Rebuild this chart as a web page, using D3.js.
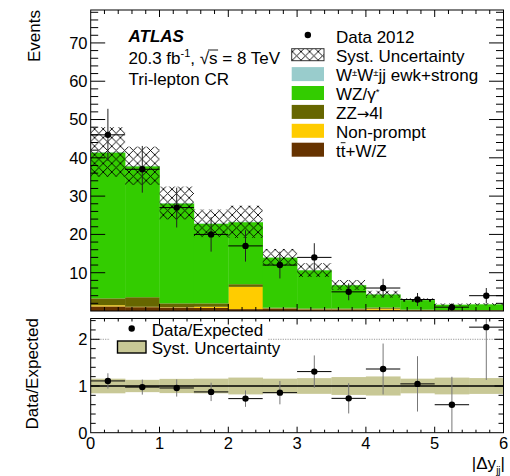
<!DOCTYPE html>
<html>
<head>
<meta charset="utf-8">
<script src="https://cdn.jsdelivr.net/npm/d3@7/dist/d3.min.js"></script>
<style>
  html, body { margin: 0; padding: 0; background: #fff; }
  svg { display: block; font-family: "Liberation Sans", Arial, Helvetica, sans-serif; }
</style>
</head>
<body>
<svg id="chart" width="510" height="476"></svg>
<script>
// |Δy_jj| bins (lower edges), width 0.5
const binEdges = [0, 0.5, 1, 1.5, 2, 2.5, 3, 3.5, 4, 4.5, 5, 5.5, 6];

// Stacked backgrounds, bottom to top
const ttWZ      = [1.2, 1.0, 0.9, 0.8, 0.5, 0.6, 0.4, 0.4, 0.3, 0.2, 0.15, 0.15];
const nonPrompt = [0.3, 0.1, 0.1, 0.3, 5.8, 0.05, 0.05, 0.05, 0.3, 0.05, 0.0, 0.0];
const zz        = [1.8, 2.5, 1.0, 0.9, 0.7, 0.2, 0.2, 0.2, 0.3, 0.1, 0.1, 0.1];
const wz        = [38.1, 34.2, 26.1, 20.8, 16.2, 13.1, 10.0, 6.1, 3.45, 2.5, 1.4, 1.5];
const wwjj      = [0.1, 0.1, 0.1, 0.1, 0.1, 0.05, 0.05, 0.05, 0.05, 0.02, 0.02, 0.02];

// Systematic uncertainty on the total expectation
const syst      = [6.5, 5.0, 4.3, 3.6, 4.2, 2.2, 1.8, 1.3, 0.9, 0.45, 0.3, 0.3];

// Data 2012 and its statistical error
const data      = [46, 37, 27, 20, 17, 12, 14, 5, 6, 3, 1, 4];
const dataErr   = [6.8, 6.1, 5.2, 4.5, 4.1, 3.5, 3.7, 2.2, 2.4, 1.7, 1.0, 2.0];

const mainTicks  = [10, 20, 30, 40, 50, 60, 70];
const ratioTicks = [0, 1, 2];
const xTicks     = [0, 1, 2, 3, 4, 5, 6];

const keys = ["ttWZ", "nonPrompt", "zz", "wz", "wwjj"];
const colors = {
  ttWZ: "#663300",
  nonPrompt: "#ffcc00",
  zz: "#666600",
  wz: "#33cc00",
  wwjj: "#99cccc"
};

const bins = binEdges.slice(0, -1).map((lo, i) => ({
  lo, hi: binEdges[i + 1],
  ttWZ: ttWZ[i], nonPrompt: nonPrompt[i], zz: zz[i], wz: wz[i], wwjj: wwjj[i],
  syst: syst[i], data: data[i], err: dataErr[i]
}));
bins.forEach(b => { b.total = keys.reduce((s, k) => s + b[k], 0); });

const svg = d3.select("#chart");

// Frames
const L = 90.7, R = 503.5;
const mainTop = 10, mainBot = 311;
const ratTop = 318.5, ratBot = 432.7;

const x = d3.scaleLinear().domain([0, 6]).range([L, R]);
const y = d3.scaleLinear().domain([0, 78.6]).range([mainBot, mainTop]);
const yr = d3.scaleLinear().domain([0, 2.445]).range([ratBot, ratTop]);

const defs = svg.append("defs");
const hp = defs.append("pattern").attr("id", "xhatch")
  .attr("patternUnits", "userSpaceOnUse").attr("width", 8.6).attr("height", 8.6);
hp.append("path").attr("d", "M0,0L8.6,8.6M8.6,0L0,8.6M-1,7.6L1,9.6M7.6,-1L9.6,1")
  .attr("stroke", "#000").attr("stroke-width", 0.9).attr("fill", "none");

defs.append("clipPath").attr("id", "clipMain").append("rect")
  .attr("x", L).attr("y", mainTop).attr("width", R - L).attr("height", mainBot - mainTop);
defs.append("clipPath").attr("id", "clipRat").append("rect")
  .attr("x", L).attr("y", ratTop).attr("width", R - L).attr("height", ratBot - ratTop);

// ---------- main panel ----------
const gMain = svg.append("g").attr("clip-path", "url(#clipMain)");
const stacked = d3.stack().keys(keys)(bins);
stacked.forEach(layer => {
  gMain.append("g").selectAll("rect").data(layer).join("rect")
    .attr("x", d => x(d.data.lo))
    .attr("width", d => x(d.data.hi) - x(d.data.lo) + 0.3)
    .attr("y", d => y(d[1]))
    .attr("height", d => Math.max(0, y(d[0]) - y(d[1])))
    .attr("fill", colors[layer.key]);
});

// systematic band
gMain.append("g").selectAll("rect").data(bins).join("rect")
  .attr("x", d => x(d.lo))
  .attr("width", d => x(d.hi) - x(d.lo))
  .attr("y", d => y(d.total + d.syst))
  .attr("height", d => y(d.total - d.syst) - y(d.total + d.syst))
  .attr("fill", "url(#xhatch)");

// data points
const gData = gMain.append("g");
gData.selectAll("line.h").data(bins).join("line").attr("class", "h")
  .attr("x1", d => x(d.lo)).attr("x2", d => x(d.hi))
  .attr("y1", d => y(d.data)).attr("y2", d => y(d.data))
  .attr("stroke", "#000").attr("stroke-width", 1);
gData.selectAll("line.v").data(bins).join("line").attr("class", "v")
  .attr("x1", d => x((d.lo + d.hi) / 2)).attr("x2", d => x((d.lo + d.hi) / 2))
  .attr("y1", d => y(d.data + d.err)).attr("y2", d => y(Math.max(0, d.data - d.err)))
  .attr("stroke", "#222").attr("stroke-width", 1);
gData.selectAll("circle").data(bins).join("circle")
  .attr("cx", d => x((d.lo + d.hi) / 2)).attr("cy", d => y(d.data))
  .attr("r", 3.2).attr("fill", "#000");

// ---------- ratio panel ----------
const gRat = svg.append("g").attr("clip-path", "url(#clipRat)");
gRat.append("line").attr("x1", L).attr("x2", R).attr("y1", yr(2)).attr("y2", yr(2))
  .attr("stroke", "#999").attr("stroke-width", 1).attr("stroke-dasharray", "1.2,1.2");
gRat.append("g").selectAll("rect").data(bins).join("rect")
  .attr("x", d => x(d.lo))
  .attr("width", d => x(d.hi) - x(d.lo) + 0.3)
  .attr("y", d => yr(1 + d.syst / d.total))
  .attr("height", d => yr(1 - d.syst / d.total) - yr(1 + d.syst / d.total))
  .attr("fill", "#c8c896");
gRat.append("line").attr("x1", L).attr("x2", R).attr("y1", yr(1)).attr("y2", yr(1))
  .attr("stroke", "#000").attr("stroke-width", 1.4);

const ratio = bins.map(d => ({ c: (d.lo + d.hi) / 2, lo: d.lo, hi: d.hi, r: d.data / d.total, e: d.err / d.total }));
gRat.append("g").selectAll("line").data(ratio).join("line")
  .attr("x1", d => x(d.c)).attr("x2", d => x(d.c))
  .attr("y1", d => yr(d.r + d.e)).attr("y2", d => yr(Math.max(0, d.r - d.e)))
  .attr("stroke", "#777").attr("stroke-width", 1);
gRat.append("g").selectAll("line").data(ratio).join("line")
  .attr("x1", d => x(d.lo)).attr("x2", d => x(d.hi))
  .attr("y1", d => yr(d.r)).attr("y2", d => yr(d.r))
  .attr("stroke", "#000").attr("stroke-width", 1);
gRat.append("g").selectAll("circle").data(ratio).join("circle")
  .attr("cx", d => x(d.c)).attr("cy", d => yr(d.r)).attr("r", 3.2).attr("fill", "#000");

// ratio legend (white box hides the dotted line behind it)
svg.append("rect").attr("x", 110).attr("y", 323).attr("width", 158).attr("height", 34).attr("fill", "#fff");
svg.append("circle").attr("cx", 131.7).attr("cy", 328.5).attr("r", 3.2).attr("fill", "#000");
svg.append("text").attr("x", 151.7).attr("y", 335.7).attr("font-size", 17).text("Data/Expected");
svg.append("rect").attr("x", 117.5).attr("y", 341).attr("width", 28.5).attr("height", 12)
  .attr("fill", "#c8c896").attr("stroke", "#000").attr("stroke-width", 1.4);
svg.append("text").attr("x", 151.7).attr("y", 353.5).attr("font-size", 17).text("Syst. Uncertainty");

// ---------- axes and frames ----------
const axisCol = "#000";
function frame(top, bot) {
  svg.append("rect").attr("x", L).attr("y", top).attr("width", R - L).attr("height", bot - top)
    .attr("fill", "none").attr("stroke", axisCol).attr("stroke-width", 1);
}
frame(mainTop, mainBot);
frame(ratTop, ratBot);

const tickG = svg.append("g").attr("stroke", axisCol).attr("stroke-width", 1);
// main y ticks (left and right)
d3.range(2, 79, 2).forEach(v => {
  const len = v % 10 === 0 ? 14.5 : 7.5;
  tickG.append("line").attr("x1", L).attr("x2", L + len).attr("y1", y(v)).attr("y2", y(v));
  tickG.append("line").attr("x1", R).attr("x2", R - len).attr("y1", y(v)).attr("y2", y(v));
});
// ratio y ticks
d3.range(0.2, 2.441, 0.2).forEach(v => {
  const major = Math.abs(v - Math.round(v)) < 1e-6;
  const len = major ? 9 : 5;
  tickG.append("line").attr("x1", L).attr("x2", L + len).attr("y1", yr(v)).attr("y2", yr(v));
  tickG.append("line").attr("x1", R).attr("x2", R - len).attr("y1", yr(v)).attr("y2", yr(v));
});
// x ticks on all four horizontal frame edges
d3.range(0.2, 5.99, 0.2).forEach(v => {
  const major = Math.abs(v - Math.round(v)) < 1e-6;
  const lm = major ? 7 : 4;
  const lr = major ? 6 : 3;
  tickG.append("line").attr("x1", x(v)).attr("x2", x(v)).attr("y1", mainTop).attr("y2", mainTop + lm);
  tickG.append("line").attr("x1", x(v)).attr("x2", x(v)).attr("y1", mainBot).attr("y2", mainBot - lm);
  tickG.append("line").attr("x1", x(v)).attr("x2", x(v)).attr("y1", ratTop).attr("y2", ratTop + lr);
  tickG.append("line").attr("x1", x(v)).attr("x2", x(v)).attr("y1", ratBot).attr("y2", ratBot - lr);
});

// tick labels
svg.append("g").selectAll("text").data(mainTicks).join("text")
  .attr("x", 87.5).attr("y", d => y(d) + 5.8).attr("text-anchor", "end")
  .attr("font-size", 16.5).text(d => d);
svg.append("g").selectAll("text").data(ratioTicks).join("text")
  .attr("x", 87.5).attr("y", d => yr(d) + 5.8).attr("text-anchor", "end")
  .attr("font-size", 16.5).text(d => d);
svg.append("g").selectAll("text").data(xTicks).join("text")
  .attr("x", d => x(d)).attr("y", 449).attr("text-anchor", "middle")
  .attr("font-size", 16.5).text(d => d);

// axis titles
svg.append("text").attr("transform", "translate(40,10) rotate(-90)")
  .attr("text-anchor", "end").attr("font-size", 17).text("Events");
svg.append("text").attr("transform", "translate(38,318) rotate(-90)")
  .attr("text-anchor", "end").attr("font-size", 17).text("Data/Expected");
const xt = svg.append("text").attr("x", 505).attr("y", 468.5).attr("text-anchor", "end").attr("font-size", 17);
xt.append("tspan").text("|Δy");
xt.append("tspan").attr("font-size", 10).attr("dy", 5).text("jj");
xt.append("tspan").attr("dy", -5).text("|");

// ATLAS label block
svg.append("text").attr("x", 128.5).attr("y", 41.5).attr("font-size", 17)
  .attr("font-weight", "bold").attr("font-style", "italic").text("ATLAS");
const lumi = svg.append("text").attr("x", 128.5).attr("y", 64).attr("font-size", 17);
lumi.append("tspan").text("20.3 fb");
lumi.append("tspan").attr("font-size", 11).attr("dy", -7).text("-1");
lumi.append("tspan").attr("dy", 7).text(", √");
const sTs = lumi.append("tspan").text("s");
lumi.append("tspan").text(" = 8 TeV");
// bar of the square root over "s"
{
  const ext = sTs.node().getExtentOfChar(0);
  svg.append("line").attr("x1", ext.x - 1).attr("x2", ext.x + ext.width + 0.5)
    .attr("y1", 64 - 14).attr("y2", 64 - 14).attr("stroke", "#000").attr("stroke-width", 0.9);
}
svg.append("text").attr("x", 128.5).attr("y", 84.5).attr("font-size", 17).text("Tri-lepton CR");

// main legend
const legX = 291.7, legW = 32.3, legText = 336, base0 = 43.3, step = 18.9;
const leg = svg.append("g").attr("font-size", 17);
leg.append("circle").attr("cx", legX + legW / 2).attr("cy", base0 - 8.3).attr("r", 3.2).attr("fill", "#000");
leg.append("text").attr("x", legText).attr("y", base0).text("Data 2012");

leg.append("rect").attr("x", legX).attr("y", base0 + step - 13.5).attr("width", legW).attr("height", 12)
  .attr("fill", "url(#xhatch)").attr("stroke", "#333").attr("stroke-width", 1);
leg.append("text").attr("x", legText).attr("y", base0 + step).text("Syst. Uncertainty");

const legRows = [
  { key: "wwjj", parts: [["W"], ["±", "sup"], ["W"], ["±", "sup"], ["jj ewk+strong"]] },
  { key: "wz", parts: [["WZ/γ"], ["*", "sup"]] },
  { key: "zz", parts: [["ZZ"], ["→", "arrow"], ["4l"]] },
  { key: "nonPrompt", parts: [["Non-prompt"]] },
  { key: "ttWZ", parts: [["t"], ["t", "bar"], ["+W/Z"]] }
];
legRows.forEach((row, i) => {
  const b = base0 + step * (i + 2);
  leg.append("rect").attr("x", legX).attr("y", b - 14).attr("width", legW).attr("height", 14)
    .attr("fill", colors[row.key]);
  const t = leg.append("text").attr("x", legText).attr("y", b);
  let raised = false;
  const bars = [];
  row.parts.forEach(([s, kind]) => {
    const sp = t.append("tspan").text(s);
    if (kind === "sup") {
      sp.attr("font-size", 9.5).attr("dy", raised ? 0 : -5);
      raised = true;
    } else {
      if (raised) { sp.attr("dy", 5); raised = false; }
      if (kind === "bar") bars.push(sp);
      if (kind === "arrow") sp.attr("font-family", "DejaVu Sans").attr("font-size", 15);
    }
  });
  // bar over the anti-top
  bars.forEach(sp => {
    const ext = sp.node().getExtentOfChar(0);
    leg.append("line").attr("x1", ext.x).attr("x2", ext.x + ext.width)
      .attr("y1", b - 14).attr("y2", b - 14).attr("stroke", "#000").attr("stroke-width", 0.9);
  });
});
</script>
</body>
</html>
